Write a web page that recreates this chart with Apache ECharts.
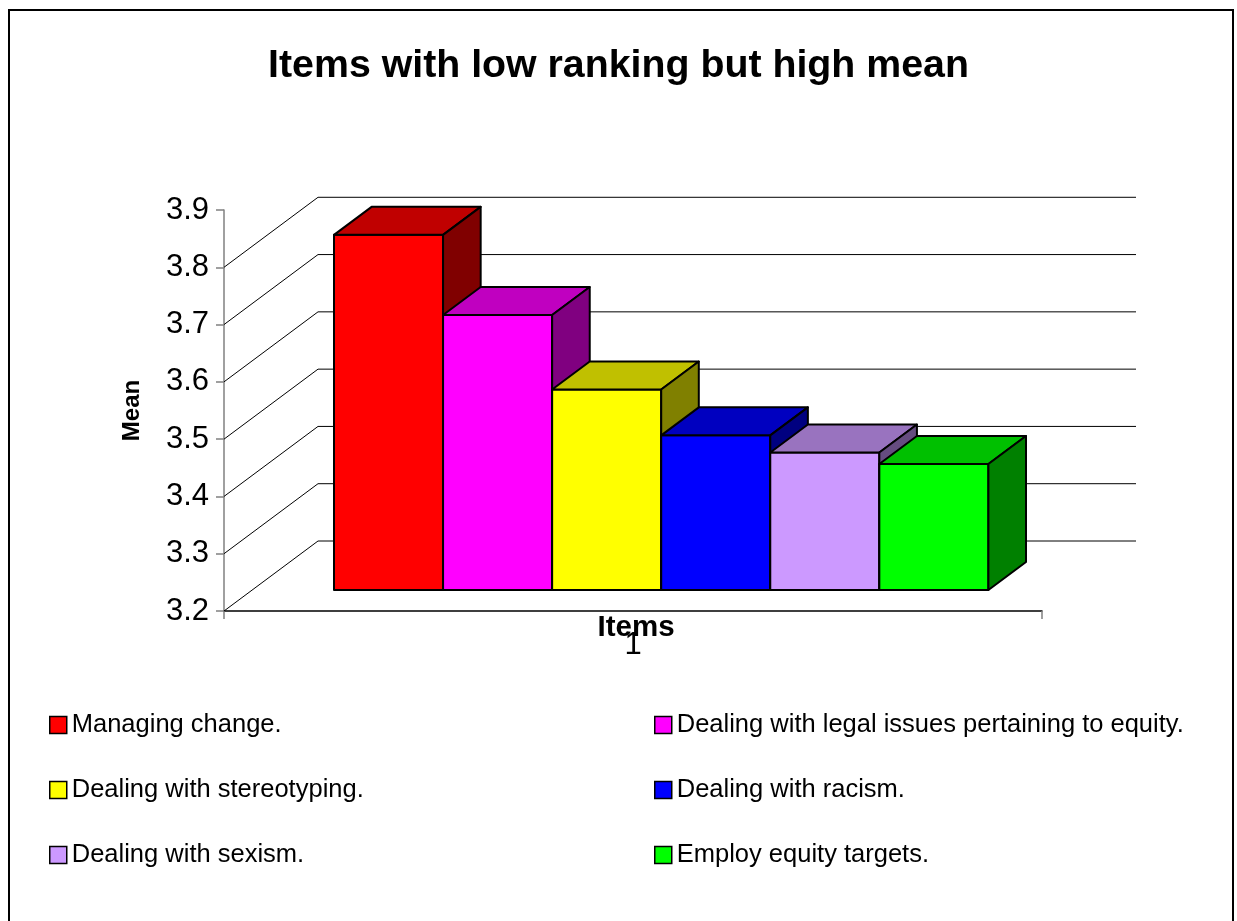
<!DOCTYPE html>
<html>
<head>
<meta charset="utf-8">
<script src="https://cdn.jsdelivr.net/npm/echarts@6.0.0/dist/echarts.min.js"></script>
<style>
  html, body { margin: 0; padding: 0; background: #fff; }
  #chart { width: 1237px; height: 921px; }
</style>
</head>
<body>
<div id="chart"></div>
<script>
// ---- data ----
const items = [
  'Managing change.',
  'Dealing with legal issues pertaining to equity.',
  'Dealing with stereotyping.',
  'Dealing with racism.',
  'Dealing with sexism.',
  'Employ equity targets.'
];
const means = [3.82, 3.68, 3.55, 3.47, 3.44, 3.42];
const xCategories = ['1'];
const axisMin = 3.2;
const axisMax = 3.9;
const axisStep = 0.1;
const wallLevels = [3.2, 3.3, 3.4, 3.5, 3.6, 3.7, 3.8];

// ---- styling ----
const faceColors = ['#FF0000', '#FF00FF', '#FFFF00', '#0000FF', '#CC99FF', '#00FF00'];
const topColors  = ['#C00000', '#C000C0', '#C0C000', '#0000C0', '#9973BF', '#00C000'];
const sideColors = ['#800000', '#800080', '#808000', '#000080', '#664C80', '#008000'];
const FONT = "'Liberation Sans', Arial, Helvetica, sans-serif";

// oblique projection: vector from the front edge of the floor to the back wall
const DEPTH = [94, -70];
const BAR_FRONT = 0.3;   // bars sit between 30% and 70% of the depth
const BAR_BACK = 0.7;
const SLOT_MIN = -0.75;  // hidden slot axis: bar i occupies [i, i+1]
const SLOT_MAX = 6.75;

function shift(p, k) {
  return [p[0] + DEPTH[0] * k, p[1] + DEPTH[1] * k];
}

// side-wall diagonals and back-wall gridlines
function renderWall(params, api) {
  const v = api.value(1);
  const a = api.coord([SLOT_MIN, v]);
  const b = api.coord([SLOT_MAX, v]);
  const a2 = shift(a, 1);
  const b2 = shift(b, 1);
  const st = { stroke: '#000', lineWidth: 1 };
  return {
    type: 'group',
    children: [
      { type: 'line', shape: { x1: a[0], y1: a[1], x2: a2[0], y2: a2[1] }, style: st },
      { type: 'line', shape: { x1: a2[0], y1: a2[1], x2: b2[0], y2: b2[1] }, style: st }
    ]
  };
}

// one 3D block: front face, top face, right side face
function makeBarRenderer(i) {
  return function (params, api) {
    const x = api.value(0);
    const v = api.value(1);
    const bl = shift(api.coord([x, axisMin]), BAR_FRONT);
    const tr = shift(api.coord([x + 1, v]), BAR_FRONT);
    const tl = [bl[0], tr[1]];
    const br = [tr[0], bl[1]];
    const d = BAR_BACK - BAR_FRONT;
    const tl2 = shift(tl, d), tr2 = shift(tr, d), br2 = shift(br, d);
    const edge = { stroke: '#000', lineWidth: 2, lineJoin: 'round' };
    return {
      type: 'group',
      children: [
        { type: 'polygon', shape: { points: [tl, tr, br, bl] },
          style: Object.assign({ fill: faceColors[i] }, edge) },
        { type: 'polygon', shape: { points: [tl, tr, tr2, tl2] },
          style: Object.assign({ fill: topColors[i] }, edge) },
        { type: 'polygon', shape: { points: [tr, br, br2, tr2] },
          style: Object.assign({ fill: sideColors[i] }, edge) }
      ]
    };
  };
}

const barSeries = items.map(function (name, i) {
  return {
    name: name,
    type: 'custom',
    xAxisIndex: 1,
    yAxisIndex: 0,
    z: 10 + i,
    itemStyle: { color: faceColors[i] },
    renderItem: makeBarRenderer(i),
    data: [[i, means[i]]]
  };
});

const legendCommon = {
  orient: 'vertical',
  icon: 'rect',
  padding: 0,
  itemWidth: 17,
  itemHeight: 17,
  itemGap: 39,
  itemStyle: { borderColor: '#000', borderWidth: 1.5 },
  textStyle: { fontSize: 25.5, color: '#000', fontFamily: FONT },
  selectedMode: false
};

const chart = echarts.init(document.getElementById('chart'), null, { renderer: 'canvas' });

chart.setOption({
  backgroundColor: '#fff',
  animation: false,
  textStyle: { fontFamily: FONT },
  title: {
    text: 'Items with low ranking but high mean',
    left: 'center',
    top: 42,
    textStyle: { fontSize: 39.3, fontWeight: 'bold', color: '#000', fontFamily: FONT }
  },
  grid: { left: 224, right: 195, top: 210, bottom: 310 },
  xAxis: [
    {
      type: 'category',
      data: xCategories,
      position: 'bottom',
      axisLine: { show: true, onZero: false, lineStyle: { color: '#000', width: 1.5 } },
      axisTick: { show: true, length: 8, lineStyle: { color: '#808080', width: 1.5 } },
      axisLabel: { fontSize: 31, color: '#000', margin: 19, fontFamily: FONT },
      splitLine: { show: false },
      name: 'Items',
      nameLocation: 'middle',
      nameGap: 2,
      nameMoveOverlap: false,
      nameTextStyle: { fontSize: 29.5, fontWeight: 'bold', color: '#000', fontFamily: FONT, padding: [0, 0, 0, 6] }
    },
    {
      type: 'value',
      min: SLOT_MIN,
      max: SLOT_MAX,
      show: false
    }
  ],
  yAxis: [
    {
      type: 'value',
      min: axisMin,
      max: axisMax,
      interval: axisStep,
      axisLine: { show: true, onZero: false, lineStyle: { color: '#808080', width: 1.5 } },
      axisTick: { show: true, length: 8, lineStyle: { color: '#808080', width: 1.5 } },
      axisLabel: {
        fontSize: 31, color: '#000', margin: 15, fontFamily: FONT,
        formatter: function (v) { return v.toFixed(1); }
      },
      splitLine: { show: false },
      name: 'Mean',
      nameLocation: 'middle',
      nameRotate: 90,
      nameGap: 80,
      nameTextStyle: { fontSize: 24, fontWeight: 'bold', color: '#000', fontFamily: FONT }
    }
  ],
  legend: [
    Object.assign({ left: 49, top: 712, data: [items[0], items[2], items[4]] }, legendCommon),
    Object.assign({ left: 654, top: 712, data: [items[1], items[3], items[5]] }, legendCommon)
  ],
  graphic: [
    {
      type: 'rect',
      shape: { x: 9, y: 10, width: 1224, height: 930 },
      style: { fill: 'none', stroke: '#000', lineWidth: 2 },
      silent: true
    }
  ],
  series: [
    {
      type: 'custom',
      xAxisIndex: 1,
      yAxisIndex: 0,
      z: 1,
      silent: true,
      renderItem: renderWall,
      data: wallLevels.map(function (v) { return [SLOT_MIN, v]; })
    }
  ].concat(barSeries)
});
</script>
</body>
</html>
